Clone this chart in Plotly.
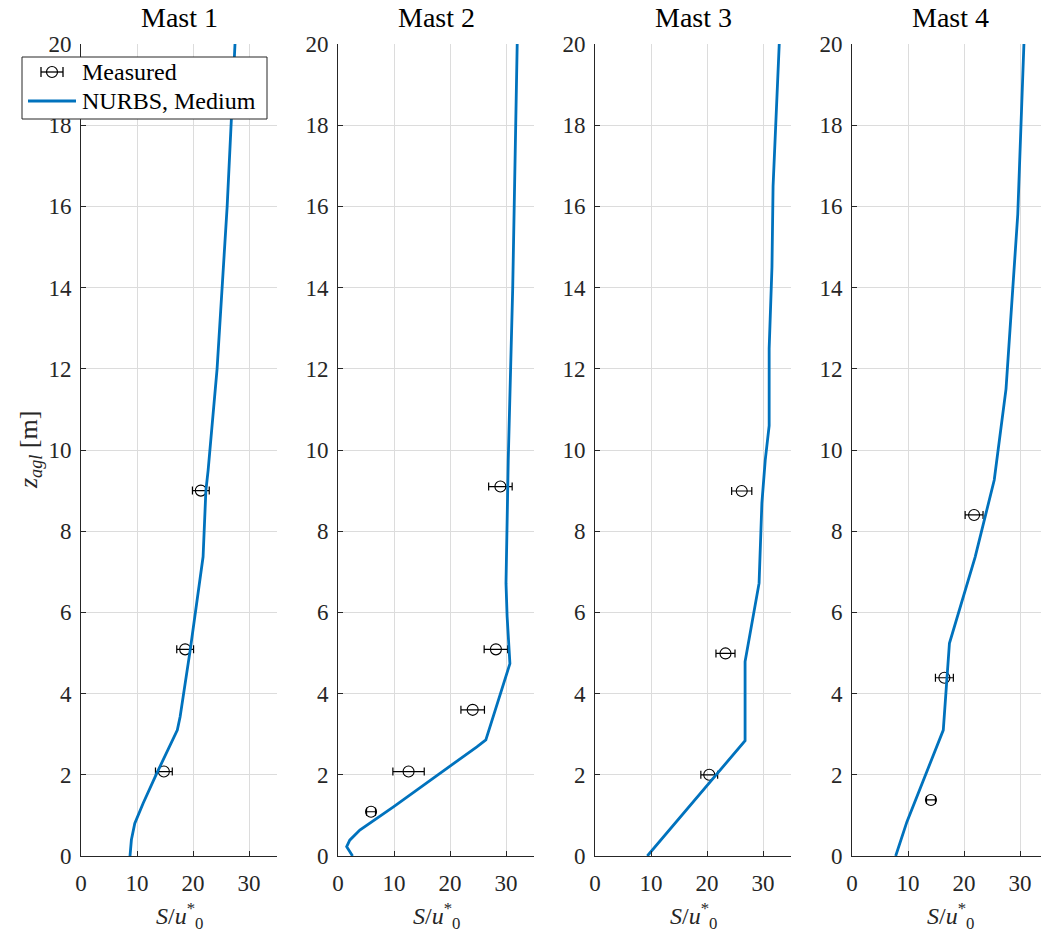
import plotly.graph_objects as go

# ---- data -----------------------------------------------------------------
masts = ["Mast 1", "Mast 2", "Mast 3", "Mast 4"]

# NURBS (medium) profiles: S/u0* versus height above ground [m]
nurbs_s = [
    [8.75, 9.0, 9.6, 11.1, 13.5, 17.2, 17.7, 19.5, 21.8, 22.3, 22.7, 24.3, 26.1, 27.5],
    [2.6, 1.55, 2.1, 3.9, 9.9, 20.0, 24.8, 26.4, 30.7, 30.2, 30.0, 30.4, 31.2, 32.0],
    [9.34, 26.8, 26.8, 29.3, 29.8, 30.4, 31.1, 31.1, 31.6, 31.8, 32.9],
    [7.8, 9.8, 16.3, 16.9, 17.4, 22.0, 25.4, 27.5, 29.6, 30.7],
]
nurbs_z = [
    [0.0, 0.4, 0.8, 1.3, 2.03, 3.1, 3.43, 5.07, 7.37, 9.0, 9.5, 12.0, 16.0, 20.0],
    [0.0, 0.23, 0.39, 0.64, 1.21, 2.2, 2.69, 2.86, 4.74, 5.9, 6.72, 9.75, 14.0, 20.0],
    [0.0, 2.84, 4.79, 6.72, 8.69, 9.75, 10.6, 12.5, 14.5, 16.5, 20.0],
    [0.0, 0.84, 3.1, 4.42, 5.24, 7.37, 9.26, 11.5, 15.8, 20.0],
]

# Measurements with +/- spread
meas_s = [
    [14.8, 18.6, 21.4],
    [5.9, 12.6, 24.05, 28.2, 29.0],
    [20.4, 23.3, 26.2],
    [14.1, 16.5, 21.8],
]
meas_z = [
    [2.08, 5.09, 9.0],
    [1.09, 2.08, 3.6, 5.09, 9.1],
    [2.0, 4.99, 8.99],
    [1.38, 4.39, 8.4],
]
meas_err = [
    [1.5, 1.5, 1.5],
    [0.8, 2.8, 2.1, 2.1, 2.1],
    [1.5, 1.7, 1.8],
    [0.8, 1.6, 1.6],
]

x_ticks = [0, 10, 20, 30]
y_ticks = [0, 2, 4, 6, 8, 10, 12, 14, 16, 18, 20]
legend_labels = ["Measured", "NURBS, Medium"]

# ---- layout geometry (pixels) --------------------------------------------
W, H = 1041, 936
left_px = [81, 338, 595, 852]
panel_w = 196
top_px, bot_px = 44, 856
x_max = 35.0

FONT = "'Liberation Serif', 'Times New Roman', serif"
AX = "#262626"
GRID = "#dcdcdc"
BLUE = "#0072BD"


def px(x):
    return x / W


def py(y):
    return 1 - y / H


fig = go.Figure()
layout = dict(
    width=W, height=H,
    margin=dict(l=0, r=0, t=0, b=0, autoexpand=False),
    paper_bgcolor="white", plot_bgcolor="white",
    font=dict(family=FONT, size=22, color=AX),
    showlegend=False,
)
annotations = []
shapes = []

for i in range(4):
    sfx = "" if i == 0 else str(i + 1)
    xa, ya = "x" + sfx, "y" + sfx
    x0 = left_px[i]
    x1 = min(x0 + panel_w, W)
    rng_hi = x_max * (x1 - x0) / panel_w

    layout["xaxis" + sfx] = dict(
        domain=[px(x0), px(x1)], range=[0, rng_hi], anchor=ya,
        tickvals=x_ticks, ticks="inside", ticklen=5, tickcolor=AX,
        showline=True, linecolor=AX, linewidth=1, mirror=False,
        showgrid=True, gridcolor=GRID, gridwidth=1, zeroline=False,
        tickfont=dict(family=FONT, size=23, color=AX),
        ticklabelstandoff=6,
    )
    layout["yaxis" + sfx] = dict(
        domain=[py(bot_px), py(top_px)], range=[0, 20], anchor=xa,
        tickvals=y_ticks, ticks="inside", ticklen=5, tickcolor=AX,
        showline=True, linecolor=AX, linewidth=1, mirror=False,
        showgrid=True, gridcolor=GRID, gridwidth=1, zeroline=False,
        tickfont=dict(family=FONT, size=23, color=AX),
        ticklabelstandoff=4,
    )

    fig.add_trace(go.Scatter(
        x=meas_s[i], y=meas_z[i], xaxis=xa, yaxis=ya, mode="markers",
        name=legend_labels[0],
        marker=dict(symbol="circle-open", size=11, color="black",
                    line=dict(width=1.1, color="black")),
        error_x=dict(type="data", array=meas_err[i], color="black",
                     thickness=1.2, width=4),
    ))
    fig.add_trace(go.Scatter(
        x=nurbs_s[i], y=nurbs_z[i], xaxis=xa, yaxis=ya, mode="lines",
        name=legend_labels[1],
        line=dict(color=BLUE, width=2.8),
    ))

    cx = px(x0 + panel_w / 2)
    annotations.append(dict(
        text=masts[i], x=cx, y=py(17), xref="paper", yref="paper",
        xanchor="center", yanchor="middle", showarrow=False,
        font=dict(family=FONT, size=28, color="black"),
    ))
    annotations.append(dict(
        text="<i>S</i>/<i>u</i><sup>*</sup><sub>0</sub>",
        x=cx, y=py(916), xref="paper", yref="paper",
        xanchor="center", yanchor="middle", showarrow=False,
        font=dict(family=FONT, size=24, color=AX),
    ))

annotations.append(dict(
    text="<i>z</i><sub><i>agl</i></sub> [m]",
    x=px(30), y=py(450), xref="paper", yref="paper",
    xanchor="center", yanchor="middle", showarrow=False, textangle=-90,
    font=dict(family=FONT, size=26, color=AX),
))

# ---- legend box drawn on top of the first panel ---------------------------
lg_x0, lg_x1, lg_y0, lg_y1 = 22, 267, 57, 119
row_y = [72, 101]
shapes.append(dict(
    type="rect", xref="paper", yref="paper", layer="above",
    x0=px(lg_x0), x1=px(lg_x1), y0=py(lg_y1), y1=py(lg_y0),
    line=dict(color=AX, width=1), fillcolor="white",
))
# errorbar glyph
sym_cx, sym_half, cap = 52, 11, 5
shapes.append(dict(
    type="line", xref="paper", yref="paper", layer="above",
    x0=px(sym_cx - sym_half), x1=px(sym_cx + sym_half),
    y0=py(row_y[0]), y1=py(row_y[0]), line=dict(color="black", width=1.3),
))
for sx in (sym_cx - sym_half, sym_cx + sym_half):
    shapes.append(dict(
        type="line", xref="paper", yref="paper", layer="above",
        x0=px(sx), x1=px(sx), y0=py(row_y[0] - cap), y1=py(row_y[0] + cap),
        line=dict(color="black", width=1.3),
    ))
shapes.append(dict(
    type="circle", xref="paper", yref="paper", layer="above",
    x0=px(sym_cx - 5.5), x1=px(sym_cx + 5.5),
    y0=py(row_y[0] + 5.5), y1=py(row_y[0] - 5.5),
    line=dict(color="black", width=1.2), fillcolor="rgba(0,0,0,0)",
))
# line glyph
shapes.append(dict(
    type="line", xref="paper", yref="paper", layer="above",
    x0=px(28), x1=px(76), y0=py(row_y[1]), y1=py(row_y[1]),
    line=dict(color=BLUE, width=3),
))
for lbl, ry in zip(legend_labels, row_y):
    annotations.append(dict(
        text=lbl, x=px(80), y=py(ry), xref="paper", yref="paper",
        xanchor="left", yanchor="middle", showarrow=False,
        font=dict(family=FONT, size=24, color="black"),
    ))

layout["annotations"] = annotations
layout["shapes"] = shapes

fig.update_layout(**layout)
fig.write_html("out.html")
